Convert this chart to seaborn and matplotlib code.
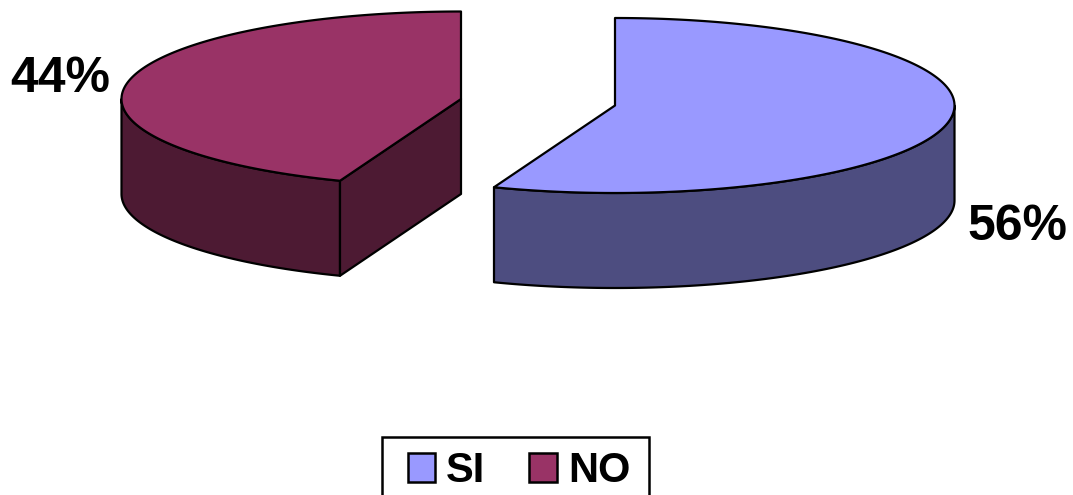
import numpy as np
import matplotlib
matplotlib.use("Agg")
import matplotlib.pyplot as plt
from matplotlib.patches import Patch, Rectangle
import seaborn as sns

categories = ["SI", "NO"]
values = [55.8, 44.2]
top_colors = ["#9999FF", "#993366"]
side_colors = ["#4D4D80", "#4D1A33"]

sns.set_theme(style="white")
plt.rcParams["font.family"] = ["Liberation Sans", "DejaVu Sans"]

W, H = 1073, 495
fig = plt.figure(figsize=(W / 100, H / 100), dpi=100)
ax = fig.add_axes([0, 0, 1, 1])
ax.set_xlim(0, W)
ax.set_ylim(H, 0)
ax.axis("off")

A, B, DEPTH = 339.5, 87.5, 95
LW = 1.6
centers = {"SI": (615, 105.5), "NO": (461, 99)}


def rim(cx, cy, a0, a1, dy=0):
    t = np.radians(np.linspace(a0, a1, 200))
    return cx + A * np.sin(t), cy + B * np.cos(t) * -1 + dy


boundary = 360 * values[0] / sum(values)


def draw(xs, ys, color, z):
    ax.fill(xs, ys, facecolor=color, edgecolor="black", linewidth=LW,
            joinstyle="round", zorder=z)


# SI slice: clockwise from the top
cx, cy = centers["SI"]
x, y = rim(cx, cy, 90, boundary)
draw(np.r_[x, x[::-1]], np.r_[y, (y + DEPTH)[::-1]], side_colors[0], 1)
x, y = rim(cx, cy, 0, boundary)
draw(np.r_[cx, x], np.r_[cy, y], top_colors[0], 2)

# NO slice
cx, cy = centers["NO"]
x, y = rim(cx, cy, boundary, 270)
draw(np.r_[x, x[::-1]], np.r_[y, (y + DEPTH)[::-1]], side_colors[1], 1)
px, py = x[0], y[0]
draw([cx, px, px, cx], [cy, py, py + DEPTH, cy + DEPTH], side_colors[1], 1)
x, y = rim(cx, cy, boundary, 360)
draw(np.r_[cx, x], np.r_[cy, y], top_colors[1], 2)

# Percentage labels
ax.text(1017, 227, f"{values[0]:.0f}%", fontsize=36, fontweight="bold",
        color="black", ha="center", va="center")
ax.text(60, 79, f"{values[1]:.0f}%", fontsize=36, fontweight="bold",
        color="black", ha="center", va="center")

# Legend frame runs past the bottom of the canvas, as in the source
ax.add_patch(Rectangle((382, 437), 267, 70, facecolor="white",
                       edgecolor="black", linewidth=1.8, zorder=3))
handles = [Patch(facecolor=c, edgecolor="black", linewidth=1.8, label=n)
           for c, n in zip(top_colors, categories)]
leg = ax.legend(handles=handles, ncol=2, loc="upper center",
                bbox_to_anchor=(519 / W, 1 - 434.5 / H),
                prop={"weight": "bold", "size": 30},
                labelcolor="black",
                frameon=False, handlelength=0.67, handleheight=0.67,
                handletextpad=0.26, columnspacing=1.05, borderpad=0.4,
                borderaxespad=0)
leg.set_zorder(4)

fig.savefig("out.png", dpi=100)
